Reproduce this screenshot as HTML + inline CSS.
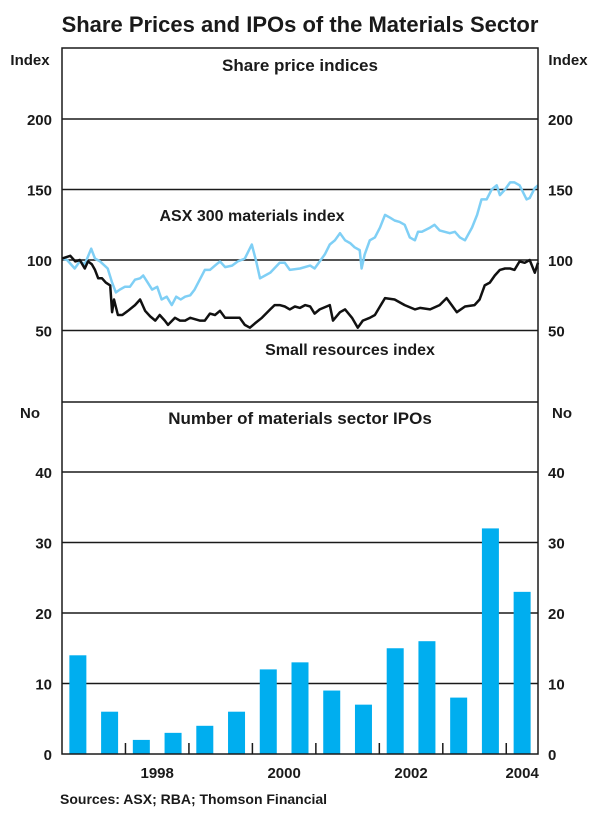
<!DOCTYPE html>
<html><head><meta charset="utf-8"><style>
body{margin:0;background:#fff;}
svg text{font-family:"Liberation Sans",Arial,sans-serif;fill:#1a1a1a;}
</style></head><body>
<svg id="chart" width="600" height="820" xmlns="http://www.w3.org/2000/svg">
<text x="300" y="32" text-anchor="middle" font-size="22" font-weight="bold">Share Prices and IPOs of the Materials Sector</text>
<text x="30" y="65" text-anchor="middle" font-size="15" font-weight="bold">Index</text>
<text x="568" y="65" text-anchor="middle" font-size="15" font-weight="bold">Index</text>
<text x="300" y="71" text-anchor="middle" font-size="17" font-weight="bold">Share price indices</text>
<text x="30" y="418" text-anchor="middle" font-size="15" font-weight="bold">No</text>
<text x="562" y="418" text-anchor="middle" font-size="15" font-weight="bold">No</text>
<text x="300" y="424" text-anchor="middle" font-size="17" font-weight="bold">Number of materials sector IPOs</text>
<text x="252" y="221" text-anchor="middle" font-size="16" font-weight="bold">ASX 300 materials index</text>
<text x="350" y="355" text-anchor="middle" font-size="16" font-weight="bold">Small resources index</text>
<text x="60" y="804" font-size="14" font-weight="bold">Sources: ASX; RBA; Thomson Financial</text>
<g id="g"></g>
</svg>
<script>
const ipoCounts=[14,6,2,3,4,6,12,13,9,7,15,16,8,32,23];
const topTicks=[50,100,150,200];
const botTicks=[0,10,20,30,40];
const yearLabels=[1998,2000,2002,2004];
const asxDates=[1997.00,1997.08,1997.20,1997.28,1997.36,1997.46,1997.52,1997.60,1997.72,1997.79,1997.85,1997.91,1997.99,1998.07,1998.15,1998.23,1998.28,1998.35,1998.42,1998.50,1998.57,1998.65,1998.73,1998.80,1998.87,1998.94,1999.02,1999.09,1999.25,1999.33,1999.41,1999.49,1999.57,1999.68,1999.77,1999.88,1999.99,2000.06,2000.12,2000.20,2000.28,2000.43,2000.51,2000.59,2000.75,2000.91,2000.98,2001.14,2001.22,2001.30,2001.38,2001.46,2001.54,2001.61,2001.69,2001.72,2001.77,2001.85,2001.93,2002.01,2002.09,2002.17,2002.24,2002.32,2002.40,2002.48,2002.56,2002.61,2002.67,2002.80,2002.87,2002.95,2003.11,2003.19,2003.27,2003.35,2003.46,2003.54,2003.61,2003.69,2003.77,2003.85,2003.90,2003.98,2004.06,2004.13,2004.21,2004.32,2004.37,2004.45,2004.50];
const asxValues=[101,100,94,99,97,108,101,99,94,84,77,79,81,81,86,87,89,84,79,81,72,74,68,74,72,74,75,79,93,93,96,99,95,96,99,101,111,99,87,89,91,98,98,93,94,96,94,104,111,114,119,114,112,109,107,94,104,114,116,123,132,130,128,127,125,116,114,120,120,123,125,121,119,120,116,114,123,132,143,143,150,153,146,150,155,155,153,143,144,151,153];
const smallDates=[1997.00,1997.13,1997.21,1997.28,1997.36,1997.41,1997.47,1997.52,1997.57,1997.63,1997.69,1997.76,1997.79,1997.82,1997.88,1997.95,1998.04,1998.15,1998.23,1998.31,1998.39,1998.47,1998.54,1998.62,1998.67,1998.78,1998.86,1998.94,1999.02,1999.17,1999.25,1999.33,1999.41,1999.49,1999.57,1999.65,1999.80,1999.88,1999.96,2000.04,2000.15,2000.28,2000.35,2000.43,2000.51,2000.59,2000.67,2000.75,2000.83,2000.91,2000.98,2001.06,2001.22,2001.27,2001.38,2001.46,2001.57,2001.66,2001.74,2001.85,2001.93,2002.09,2002.24,2002.40,2002.56,2002.64,2002.80,2002.95,2003.06,2003.14,2003.22,2003.35,2003.50,2003.58,2003.66,2003.74,2003.82,2003.90,2003.98,2004.06,2004.13,2004.21,2004.29,2004.37,2004.45,2004.50];
const smallValues=[101,103,99,100,94,99,97,93,87,87,84,82,63,72,61,61,64,68,72,64,60,57,61,57,54,59,57,57,59,57,57,62,61,64,59,59,59,54,52,55,59,65,68,68,67,65,67,66,68,67,62,65,68,57,63,65,59,52,57,59,61,73,72,68,65,66,65,68,73,68,63,67,68,72,82,84,89,93,94,94,93,99,98,100,91,98];

const NS="http://www.w3.org/2000/svg";
const g=document.getElementById('g');
const L=62,R=538,T=48,MID=402,B=754;
const xT=t=>L+(t-1997)*(R-L)/7.5;
const yTop=v=>401-v*70.5/50;
const yBot=v=>B-v*70.5/10;
function mk(tag,attrs,parent){const e=document.createElementNS(NS,tag);for(const k in attrs)e.setAttribute(k,attrs[k]);(parent||g).appendChild(e);return e;}

topTicks.forEach(v=>{
  const y=yTop(v);
  const ln=mk('line',{x1:L,x2:R,y1:y,y2:y,stroke:'#1a1a1a','stroke-width':1.5});
  
  
  const a=mk('text',{x:L-10,y:y+6,'text-anchor':'end','font-size':15,'font-weight':'bold'});a.textContent=v;
  
  
  const b=mk('text',{x:R+10,y:y+6,'font-size':15,'font-weight':'bold'});b.textContent=v;
  
  
});
botTicks.forEach(v=>{
  const y=yBot(v);
  if(v>0){const ln=mk('line',{x1:L,x2:R,y1:y,y2:y,stroke:'#1a1a1a','stroke-width':1.5});
  
  }
  const a=mk('text',{x:L-10,y:y+6,'text-anchor':'end','font-size':15,'font-weight':'bold'});a.textContent=v;
  
  
  const b=mk('text',{x:R+10,y:y+6,'font-size':15,'font-weight':'bold'});b.textContent=v;
  
  
});
const bw=(R-L)/15;
ipoCounts.forEach((v,i)=>{
  const cx=xT(1997+0.25+i*0.5);
  const r=mk('rect',{x:cx-8.5,y:yBot(v),width:17,height:B-yBot(v),fill:'#00AEEF'});
  
  
});
for(let yr=1998;yr<=2004;yr++){
  const x=xT(yr);
  const t=mk('line',{x1:x,x2:x,y1:B,y2:B-11,stroke:'#1a1a1a','stroke-width':1.5});
  
  
}
yearLabels.forEach(yr=>{
  const x=Math.min(xT(yr+0.5),xT(2004.25));
  const t=mk('text',{x:x,y:778,'text-anchor':'middle','font-size':15,'font-weight':'bold'});t.textContent=yr;
  
  
});
function line(dates,vals,color,name){
  const d=dates.map((t,i)=>(i?'L':'M')+xT(t).toFixed(1)+','+yTop(vals[i]).toFixed(1)).join('');
  const p=mk('path',{d:d,fill:'none',stroke:color,'stroke-width':2.5,'stroke-linejoin':'round'});
  
  
}
line(asxDates,asxValues,'#7FCFF5','asx-300-materials-line');
line(smallDates,smallValues,'#111','small-resources-line');
const f=mk('rect',{x:L,y:T,width:R-L,height:B-T,fill:'none',stroke:'#1a1a1a','stroke-width':1.5});


const dv=mk('line',{x1:L,x2:R,y1:MID,y2:MID,stroke:'#1a1a1a','stroke-width':1.5});


</script>
</body></html>
